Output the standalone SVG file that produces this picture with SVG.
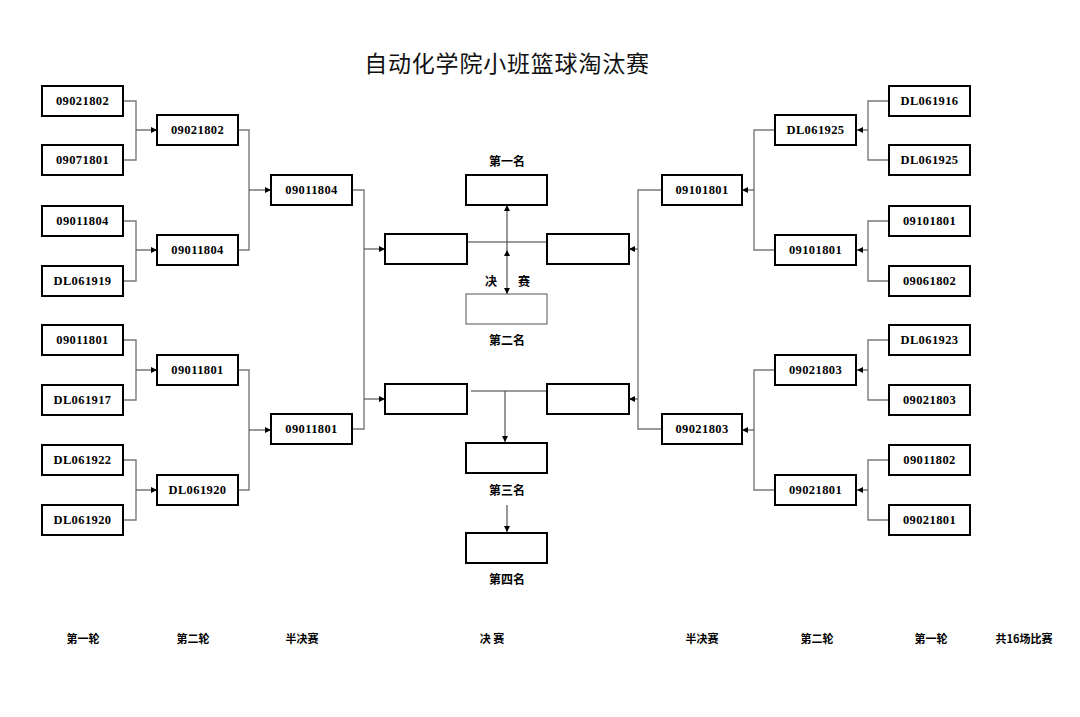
<svg xmlns="http://www.w3.org/2000/svg" width="1080" height="717" viewBox="0 0 1080 717">
<style>
.b{fill:#fff;stroke:#000;stroke-width:2}
.b2{fill:#fff;stroke:#555;stroke-width:1}
.t{font-family:"Liberation Serif","Noto Sans CJK SC",serif;font-weight:bold;font-size:12.5px;letter-spacing:0.4px;text-anchor:middle;fill:#000}
.c{font-family:"Noto Sans CJK SC",sans-serif;font-weight:bold;font-size:12px;text-anchor:middle;fill:#000}
.f{font-family:"Noto Sans CJK SC",sans-serif;font-weight:bold;font-size:11px;text-anchor:middle;fill:#000}
.ln{fill:none;stroke:#7a7a7a;stroke-width:1.4}
.ar{fill:none;stroke:#555;stroke-width:1.2;marker-end:url(#ah)}
</style>
<defs>
<marker id="ah" markerUnits="userSpaceOnUse" markerWidth="7" markerHeight="7" refX="6" refY="3" orient="auto"><path d="M0,0 L6,3 L0,6 Z" fill="#000"/></marker>
<marker id="ahs" markerUnits="userSpaceOnUse" markerWidth="7" markerHeight="7" refX="0" refY="3" orient="auto"><path d="M6,0 L0,3 L6,6 Z" fill="#000"/></marker>
</defs>
<rect width="1080" height="717" fill="#fff"/>
<text x="507" y="72" style="font-family:'Noto Sans CJK SC',sans-serif;font-size:23px;letter-spacing:0.8px;text-anchor:middle;fill:#111">自动化学院小班篮球淘汰赛</text>

<g id="connectors">
<polyline class="ln" points="123,101 136,101 136,160 123,160"/>
<line class="ar" x1="136" y1="130" x2="157" y2="130"/>
<polyline class="ln" points="123,221 136,221 136,281 123,281"/>
<line class="ar" x1="136" y1="250" x2="157" y2="250"/>
<polyline class="ln" points="123,340 136,340 136,400 123,400"/>
<line class="ar" x1="136" y1="370" x2="157" y2="370"/>
<polyline class="ln" points="123,460 136,460 136,520 123,520"/>
<line class="ar" x1="136" y1="490" x2="157" y2="490"/>
<polyline class="ln" points="238,130 249,130 249,250 238,250"/>
<line class="ar" x1="249" y1="190" x2="271" y2="190"/>
<polyline class="ln" points="238,370 249,370 249,490 238,490"/>
<line class="ar" x1="249" y1="430" x2="271" y2="430"/>
<polyline class="ln" points="352,190 364,190 364,429 352,429"/>
<line class="ar" x1="364" y1="249" x2="385" y2="249"/>
<line class="ar" x1="364" y1="399" x2="385" y2="399"/>

<polyline class="ln" points="889,101 868,101 868,160 889,160"/>
<line class="ar" x1="868" y1="130" x2="857" y2="130"/>
<polyline class="ln" points="889,221 868,221 868,281 889,281"/>
<line class="ar" x1="868" y1="250" x2="857" y2="250"/>
<polyline class="ln" points="889,340 868,340 868,400 889,400"/>
<line class="ar" x1="868" y1="370" x2="857" y2="370"/>
<polyline class="ln" points="889,460 868,460 868,520 889,520"/>
<line class="ar" x1="868" y1="490" x2="857" y2="490"/>
<polyline class="ln" points="775,130 754,130 754,250 775,250"/>
<line class="ar" x1="754" y1="190" x2="742" y2="190"/>
<polyline class="ln" points="775,370 754,370 754,490 775,490"/>
<line class="ar" x1="754" y1="430" x2="742" y2="430"/>
<polyline class="ln" points="662,190 638,190 638,429 662,429"/>
<line class="ar" x1="638" y1="249" x2="629" y2="249"/>
<line class="ar" x1="638" y1="399" x2="629" y2="399"/>

<line class="ln" x1="467" y1="242" x2="547" y2="242"/>
<line class="ar" x1="507" y1="250" x2="507" y2="294" style="marker-start:url(#ahs)"/>
<line class="ar" x1="507" y1="250" x2="507" y2="205"/>
<line class="ln" x1="471" y1="391" x2="550" y2="391"/>
<line class="ar" x1="505" y1="391" x2="505" y2="442"/>
<line class="ar" x1="507" y1="505" x2="507" y2="532"/>
</g>

<g id="L1"><rect class="b" x="42" y="86" width="81" height="30"/><text class="t" x="82.5" y="105">09021802</text></g>
<g id="L2"><rect class="b" x="42" y="145" width="81" height="30"/><text class="t" x="82.5" y="164">09071801</text></g>
<g id="L3"><rect class="b" x="42" y="206" width="81" height="30"/><text class="t" x="82.5" y="225">09011804</text></g>
<g id="L4"><rect class="b" x="42" y="266" width="81" height="30"/><text class="t" x="82.5" y="285">DL061919</text></g>
<g id="L5"><rect class="b" x="42" y="325" width="81" height="30"/><text class="t" x="82.5" y="344">09011801</text></g>
<g id="L6"><rect class="b" x="42" y="385" width="81" height="30"/><text class="t" x="82.5" y="404">DL061917</text></g>
<g id="L7"><rect class="b" x="42" y="445" width="81" height="30"/><text class="t" x="82.5" y="464">DL061922</text></g>
<g id="L8"><rect class="b" x="42" y="505" width="81" height="30"/><text class="t" x="82.5" y="524">DL061920</text></g>

<g id="L2a"><rect class="b" x="157" y="115" width="81" height="30"/><text class="t" x="197.5" y="134">09021802</text></g>
<g id="L2b"><rect class="b" x="157" y="235" width="81" height="30"/><text class="t" x="197.5" y="254">09011804</text></g>
<g id="L2c"><rect class="b" x="157" y="355" width="81" height="30"/><text class="t" x="197.5" y="374">09011801</text></g>
<g id="L2d"><rect class="b" x="157" y="475" width="81" height="30"/><text class="t" x="197.5" y="494">DL061920</text></g>

<g id="LS1"><rect class="b" x="271" y="175" width="81" height="30"/><text class="t" x="311.5" y="194">09011804</text></g>
<g id="LS2"><rect class="b" x="271" y="414" width="81" height="30"/><text class="t" x="311.5" y="433">09011801</text></g>

<g id="R1"><rect class="b" x="889" y="86" width="81" height="30"/><text class="t" x="929.5" y="105">DL061916</text></g>
<g id="R2"><rect class="b" x="889" y="145" width="81" height="30"/><text class="t" x="929.5" y="164">DL061925</text></g>
<g id="R3"><rect class="b" x="889" y="206" width="81" height="30"/><text class="t" x="929.5" y="225">09101801</text></g>
<g id="R4"><rect class="b" x="889" y="266" width="81" height="30"/><text class="t" x="929.5" y="285">09061802</text></g>
<g id="R5"><rect class="b" x="889" y="325" width="81" height="30"/><text class="t" x="929.5" y="344">DL061923</text></g>
<g id="R6"><rect class="b" x="889" y="385" width="81" height="30"/><text class="t" x="929.5" y="404">09021803</text></g>
<g id="R7"><rect class="b" x="889" y="445" width="81" height="30"/><text class="t" x="929.5" y="464">09011802</text></g>
<g id="R8"><rect class="b" x="889" y="505" width="81" height="30"/><text class="t" x="929.5" y="524">09021801</text></g>

<g id="R2a"><rect class="b" x="775" y="115" width="81" height="30"/><text class="t" x="815.5" y="134">DL061925</text></g>
<g id="R2b"><rect class="b" x="775" y="235" width="81" height="30"/><text class="t" x="815.5" y="254">09101801</text></g>
<g id="R2c"><rect class="b" x="775" y="355" width="81" height="30"/><text class="t" x="815.5" y="374">09021803</text></g>
<g id="R2d"><rect class="b" x="775" y="475" width="81" height="30"/><text class="t" x="815.5" y="494">09021801</text></g>

<g id="RS1"><rect class="b" x="662" y="175" width="80" height="30"/><text class="t" x="702" y="194">09101801</text></g>
<g id="RS2"><rect class="b" x="662" y="414" width="80" height="30"/><text class="t" x="702" y="433">09021803</text></g>

<g id="FL1"><rect class="b" x="385" y="234" width="82" height="30"/></g>
<g id="FR1"><rect class="b" x="547" y="234" width="82" height="30"/></g>
<g id="FL2"><rect class="b" x="385" y="384" width="82" height="30"/></g>
<g id="FR2"><rect class="b" x="547" y="384" width="82" height="30"/></g>

<g id="first"><text class="c" x="507" y="166">第一名</text><rect class="b" x="466" y="175" width="81" height="30"/></g>
<g id="final"><text class="c" x="491" y="286">决</text><text class="c" x="524" y="286">赛</text></g>
<g id="second"><rect class="b2" x="466" y="294" width="81" height="30"/><text class="c" x="507" y="345">第二名</text></g>
<g id="third"><rect class="b" x="466" y="443" width="81" height="30"/><text class="c" x="507" y="495">第三名</text></g>
<g id="fourth"><rect class="b" x="466" y="533" width="81" height="30"/><text class="c" x="507" y="584">第四名</text></g>

<g id="footer">
<text class="f" x="83" y="643">第一轮</text>
<text class="f" x="193" y="643">第二轮</text>
<text class="f" x="302" y="643">半决赛</text>
<text class="f" x="492" y="643">决 赛</text>
<text class="f" x="702" y="643">半决赛</text>
<text class="f" x="817" y="643">第二轮</text>
<text class="f" x="931" y="643">第一轮</text>
<text class="f" x="1024" y="643">共16场比赛</text>
</g>
</svg>
